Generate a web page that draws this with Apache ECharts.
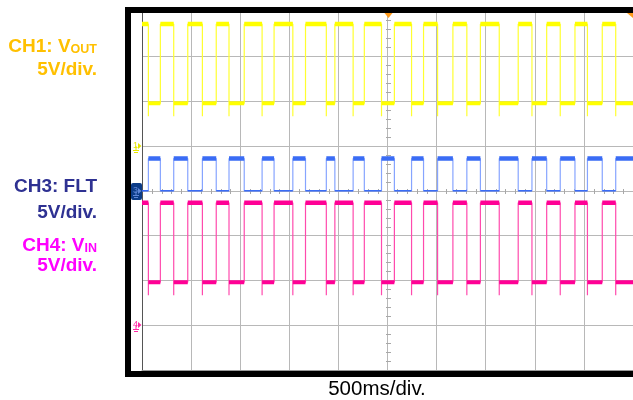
<!DOCTYPE html>
<html><head><meta charset="utf-8">
<script src="https://cdn.jsdelivr.net/npm/echarts@6/dist/echarts.min.js"></script>
<style>html,body{margin:0;padding:0;background:#fff;overflow:hidden}#c{width:633px;height:400px}</style>
</head><body><div id="c"></div>
<script>
// ---- axis setup (oscilloscope screen) ----
const timeSpanMs = 5000;          // 10 div x 500 ms
const timeDivMs = 500;
const vertDivs = [-4, 4];         // 8 vertical divisions
const voltsPerDiv = 5;
const timeLabel = '500ms/div.';

// ---- edge times (ms from left edge of screen) ----
const edgeTimesMs = [65, 187, 323, 466, 615, 756, 886, 1041, 1223, 1345, 1536, 1665, 1877, 1964, 2150, 2264,
  2439, 2570, 2745, 2867, 3010, 3166, 3308, 3446, 3638, 3831, 3971, 4121, 4259, 4409, 4536, 4687, 4824];

// ---- CH1: VOUT ----
const ch1GroundDiv = 1.0;
const ch1LevelsV = [13.6, 4.75];   // high, low
const ch1UndershootV = 3.3;
const ch1StartsHigh = true;
// ---- CH3: FLT ----
const ch3GroundDiv = 0.0;
const ch3LevelsV = [3.6, 0.0];
const ch3UndershootV = null;
const ch3StartsHigh = false;
// ---- CH4: VIN ----
const ch4GroundDiv = -3.0;
const ch4LevelsV = [13.65, 4.8];
const ch4UndershootV = 3.35;
const ch4StartsHigh = true;

// ---- labels ----
const labelLines = [
  ['CH1: V', 'OUT'], ['5V/div.', ''],
  ['CH3: FLT', ''], ['5V/div.', ''],
  ['CH4: V', 'IN'], ['5V/div.', '']
];

function toDiv(ground, v) { return ground + v / voltsPerDiv; }

function buildTrace(startHigh, ground, levels, under) {
  const hi = toDiv(ground, levels[0]), lo = toDiv(ground, levels[1]);
  const us = under == null ? null : toDiv(ground, under);
  const edge = [], platHi = [], platLo = [];
  let state = startHigh;
  let prev = 0;
  edge.push([0, state ? hi : lo]);
  const bounds = edgeTimesMs.concat([timeSpanMs]);
  bounds.forEach((t, i) => {
    const lvl = state ? hi : lo;
    const arr = state ? platHi : platLo;
    arr.push([prev, lvl], [t, lvl], [t, null]);
    if (i < edgeTimesMs.length) {
      edge.push([t, lvl]);
      if (state && us != null) edge.push([t, us]);
      state = !state;
      edge.push([t, state ? hi : lo]);
    } else {
      edge.push([t, lvl]);
    }
    prev = t;
  });
  return { edge, platHi, platLo };
}

const ch1 = buildTrace(ch1StartsHigh, ch1GroundDiv, ch1LevelsV, ch1UndershootV);
const ch3 = buildTrace(ch3StartsHigh, ch3GroundDiv, ch3LevelsV, ch3UndershootV);
const ch4 = buildTrace(ch4StartsHigh, ch4GroundDiv, ch4LevelsV, ch4UndershootV);

function line(data, color, width, z) {
  return { type: 'line', data, showSymbol: false, symbol: 'none', silent: true, connectNulls: false,
    lineStyle: { color, width }, z, animation: false };
}

const chart = echarts.init(document.getElementById('c'), null, { renderer: 'canvas' });
const option = {
  animation: false,
  backgroundColor: '#fff',
  grid: { left: 142, top: 11.5, width: 491, height: 358.5 },
  xAxis: { type: 'value', min: 0, max: timeSpanMs, interval: timeDivMs,
    axisLine: { show: true, onZero: false, lineStyle: { color: '#9a9a9a', width: 1 } },
    axisTick: { show: false }, axisLabel: { show: false },
    splitLine: { show: true, lineStyle: { color: '#b8b8b8', width: 1 } } },
  yAxis: { type: 'value', min: vertDivs[0], max: vertDivs[1], interval: 1,
    axisLine: { show: true, onZero: false, lineStyle: { color: '#555', width: 1 } },
    axisTick: { show: false }, axisLabel: { show: false },
    splitLine: { show: true, lineStyle: { color: '#b8b8b8', width: 1 } } },
  series: [
    line(ch3.edge, '#86a4ff', 1.2, 3), line(ch3.platLo, '#3a6cf5', 1.5, 4), line(ch3.platHi, '#3a6cf5', 4.5, 4),
    line(ch4.edge, '#ff4aad', 1.2, 5), line(ch4.platLo, '#ff0095', 4, 6), line(ch4.platHi, '#ff0095', 4.5, 6),
    line(ch1.edge, '#ffff30', 1.2, 7), line(ch1.platLo, '#ffff00', 4, 8), line(ch1.platHi, '#ffff00', 4.5, 8)
  ]
};
chart.setOption(option);

// ---- decorations computed from the axes ----
const g = [];
const c0 = chart.convertToPixel({ gridIndex: 0 }, [timeSpanMs / 2, 0]);
const cx = Math.round(c0[0]) + 0.5, cy = Math.round(c0[1]) + 0.5;
for (let k = vertDivs[0] * 5; k <= vertDivs[1] * 5; k++) {
  if (k % 5 === 0) continue;
  const y = Math.round(chart.convertToPixel({ yAxisIndex: 0 }, k / 5)) + 0.5;
  g.push({ type: 'line', shape: { x1: cx - 2.5, y1: y, x2: cx + 2.5, y2: y }, style: { stroke: '#a8a8a8', lineWidth: 1 }, z: 2 });
}
for (let k = 0; k <= timeSpanMs / 100; k++) {
  if (k % 5 === 0) continue;
  const x = Math.round(chart.convertToPixel({ xAxisIndex: 0 }, k * 100)) + 0.5;
  g.push({ type: 'line', shape: { x1: x, y1: cy - 2.5, x2: x, y2: cy + 2.5 }, style: { stroke: '#a8a8a8', lineWidth: 1 }, z: 2 });
}
// black frame
g.push({ type: 'rect', shape: { x: 125, y: 7, width: 508, height: 6 }, style: { fill: '#000' }, z: 20 });
g.push({ type: 'rect', shape: { x: 125, y: 7, width: 6, height: 370 }, style: { fill: '#000' }, z: 20 });
g.push({ type: 'rect', shape: { x: 125, y: 371, width: 508, height: 6 }, style: { fill: '#000' }, z: 20 });
// trigger markers
g.push({ type: 'polygon', shape: { points: [[cx - 4, 13], [cx + 4, 13], [cx, 18]] }, style: { fill: '#ff9a1a' }, z: 21 });
g.push({ type: 'polygon', shape: { points: [[627, 13], [633, 13], [633, 18]] }, style: { fill: '#ff9a1a' }, z: 21 });
// ground markers
function gndMarker(ground, color, num, boxed) {
  const y = Math.round(chart.convertToPixel({ yAxisIndex: 0 }, ground));
  if (boxed) {
    g.push({ type: 'rect', shape: { x: 131, y: y - 8, width: 11, height: 17, r: 2 }, style: { fill: '#0c3c88' }, z: 22 });
  }
  const fg = boxed ? '#5f86d8' : color;
  g.push({ type: 'text', style: { text: num, x: 133, y: y, fill: fg, font: '9px Arial', align: 'left', verticalAlign: 'middle' }, z: 23 });
  g.push({ type: 'polygon', shape: { points: [[138, y - 3], [138, y + 3], [141.5, y]] }, style: { fill: fg }, z: 23 });
  g.push({ type: 'line', shape: { x1: 136, y1: y, x2: 136, y2: y + 4 }, style: { stroke: fg, lineWidth: 1 }, z: 23 });
  g.push({ type: 'line', shape: { x1: 133, y1: y + 4.5, x2: 139, y2: y + 4.5 }, style: { stroke: fg, lineWidth: 1 }, z: 23 });
  g.push({ type: 'line', shape: { x1: 134, y1: y + 6.5, x2: 138, y2: y + 6.5 }, style: { stroke: fg, lineWidth: 1 }, z: 23 });
}
gndMarker(ch1GroundDiv, '#e6e600', '1', false);
gndMarker(ch3GroundDiv, '#3a6cf5', '3', true);
gndMarker(ch4GroundDiv, '#ff2aa5', '4', false);

// labels
const labelColors = ['#ffc000', '#ffc000', '#2e3192', '#2e3192', '#ff00ff', '#ff00ff'];
const labelBaselines = [52, 75, 192.5, 218.5, 251.5, 271.5];
labelLines.forEach((ln, i) => {
  const col = labelColors[i];
  const txt = ln[1] ? '{a|' + ln[0] + '}{s|' + ln[1] + '}' : '{a|' + ln[0] + '}';
  g.push({ type: 'text', z: 30, style: {
    text: txt, x: 97, y: labelBaselines[i] + 4, align: 'right', verticalAlign: 'bottom',
    rich: {
      a: { font: 'bold 19px Arial, "Liberation Sans"', fill: col, verticalAlign: 'bottom', lineHeight: 20 },
      s: { font: 'bold 12.5px Arial, "Liberation Sans"', fill: col, verticalAlign: 'bottom', lineHeight: 14 }
    } } });
});
g.push({ type: 'text', z: 30, style: { text: timeLabel, x: 377, y: 389, fill: '#000', font: '20.5px Arial, "Liberation Sans"', align: 'center', verticalAlign: 'middle' } });

chart.setOption({ graphic: { elements: g } });
</script></body></html>
